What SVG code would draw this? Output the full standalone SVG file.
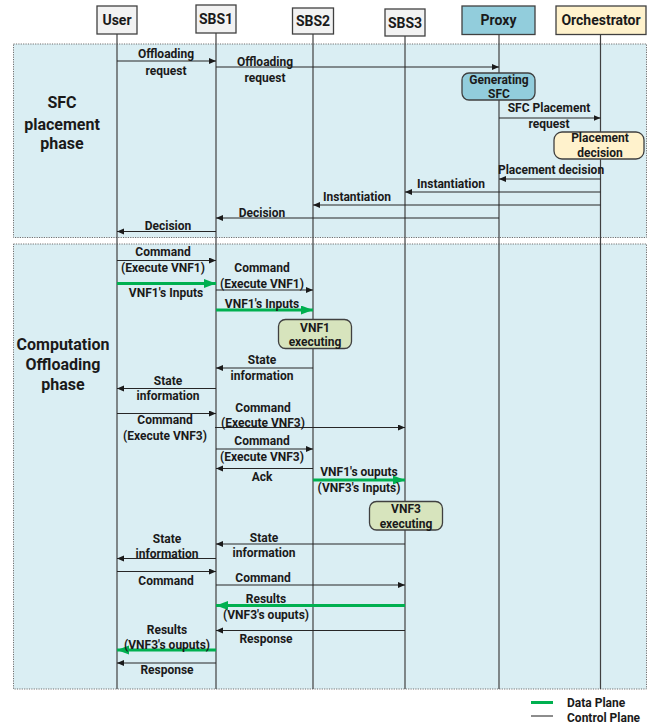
<svg xmlns="http://www.w3.org/2000/svg" width="655" height="724" viewBox="0 0 655 724">
<defs>
<style>
text{font-family:Roboto,"Liberation Sans",sans-serif;font-weight:bold;fill:#1a1a1a;text-anchor:middle;dominant-baseline:central}
.lbl{font-size:12px}
.hdr{font-size:14px}
.ttl{font-size:16px}
.sec{fill:#DAEEF3;stroke:#6f6f6f;stroke-width:1;stroke-dasharray:1.2 1.2}
.life{stroke:#404040;stroke-width:1.2}
.hbox{fill:#F2F2F2;stroke:#404040;stroke-width:1.3}
.ctl{stroke:#262626;stroke-width:1;fill:none;marker-end:url(#ah)}
.dat{stroke:#00B050;stroke-width:3;fill:none;marker-end:url(#gh)}
.act{stroke:#404040;stroke-width:1.3}
</style>
<marker id="ah" markerUnits="userSpaceOnUse" markerWidth="8" markerHeight="7" refX="7" refY="3" orient="auto"><path d="M0,0 L7,3 L0,6 z" fill="#1a1a1a"/></marker>
<marker id="gh" markerUnits="userSpaceOnUse" markerWidth="13" markerHeight="10" refX="12" refY="4.5" orient="auto"><path d="M0,0 L12,4.5 L0,9 z" fill="#00B050"/></marker>
</defs>
<rect x="0" y="0" width="655" height="724" fill="#ffffff"/>
<g id="phase1">
<rect class="sec" x="13.5" y="44" width="633" height="193.5"/>
<text class="ttl" x="62" y="102">SFC</text>
<text class="ttl" x="62" y="124">placement</text>
<text class="ttl" x="62" y="143">phase</text>
</g>
<g id="phase2">
<rect class="sec" x="13.5" y="244" width="633" height="445"/>
<text class="ttl" x="63" y="344">Computation</text>
<text class="ttl" x="63" y="364">Offloading</text>
<text class="ttl" x="63" y="384">phase</text>
</g>
<g id="lifelines">
<line class="life" x1="117" y1="34" x2="117" y2="689"/>
<line class="life" x1="216" y1="33" x2="216" y2="689"/>
<line class="life" x1="313" y1="34" x2="313" y2="689"/>
<line class="life" x1="405" y1="36" x2="405" y2="689"/>
<line class="life" x1="499" y1="34" x2="499" y2="689"/>
<line class="life" x1="600.5" y1="34" x2="600.5" y2="689"/>
</g>
<g id="user"><rect class="hbox" x="97" y="6" width="40" height="28"/><text class="hdr" x="117" y="20">User</text></g>
<g id="sbs1"><rect class="hbox" x="196" y="5" width="40" height="28"/><text class="hdr" x="216" y="19">SBS1</text></g>
<g id="sbs2"><rect class="hbox" x="292.5" y="8" width="41" height="26"/><text class="hdr" x="313" y="21">SBS2</text></g>
<g id="sbs3"><rect class="hbox" x="385" y="9" width="40" height="27"/><text class="hdr" x="405" y="23">SBS3</text></g>
<g id="proxy"><rect x="462" y="6" width="73" height="28.5" fill="#92CDDC" stroke="#404040" stroke-width="1.3"/><text class="hdr" x="498.5" y="20">Proxy</text></g>
<g id="orchestrator"><rect x="556" y="6" width="90" height="28.5" fill="#FFF2CC" stroke="#404040" stroke-width="1.3"/><text class="hdr" x="601" y="20">Orchestrator</text></g>
<g id="generating-sfc"><rect class="act" x="462" y="73" width="73" height="27" rx="7" fill="#92CDDC"/><text class="lbl" x="499" y="79.5">Generating</text><text class="lbl" x="499" y="94">SFC</text></g>
<g id="placement-decision"><rect class="act" x="554" y="132" width="90" height="27" rx="8" fill="#FFF2CC"/><text class="lbl" x="600" y="137.5">Placement</text><text class="lbl" x="600" y="153">decision</text></g>
<g id="vnf1-executing"><rect class="act" x="278.5" y="319.5" width="73" height="29" rx="7" fill="#D7E4BD"/><text class="lbl" x="315" y="327.5">VNF1</text><text class="lbl" x="315" y="341.5">executing</text></g>
<g id="vnf3-executing"><rect class="act" x="369.5" y="501.5" width="73" height="28.5" rx="7" fill="#D7E4BD"/><text class="lbl" x="406" y="509">VNF3</text><text class="lbl" x="406" y="523.5">executing</text></g>
<g id="connectors">
<line class="ctl" x1="117" y1="61" x2="216" y2="61"/>
<text class="lbl" x="166" y="54">Offloading</text><text class="lbl" x="166" y="70.5">request</text>
<line class="ctl" x1="216" y1="67" x2="499" y2="67"/>
<text class="lbl" x="265" y="62">Offloading</text><text class="lbl" x="265" y="77.5">request</text>
<line class="ctl" x1="499" y1="118" x2="600.5" y2="118"/>
<text class="lbl" x="549" y="107.5">SFC Placement</text><text class="lbl" x="549" y="123.5">request</text>
<line class="ctl" x1="600.5" y1="179" x2="499" y2="179"/>
<text class="lbl" x="551" y="170">Placement decision</text>
<line class="ctl" x1="600.5" y1="192" x2="405" y2="192"/>
<text class="lbl" x="451" y="184">Instantiation</text>
<line class="ctl" x1="600.5" y1="205" x2="313" y2="205"/>
<text class="lbl" x="357" y="196.5">Instantiation</text>
<line class="ctl" x1="499" y1="218" x2="216" y2="218"/>
<text class="lbl" x="262" y="213">Decision</text>
<line class="ctl" x1="216" y1="231.5" x2="117" y2="231.5"/>
<text class="lbl" x="168" y="226">Decision</text>

<line class="ctl" x1="117" y1="260.5" x2="216" y2="260.5"/>
<text class="lbl" x="163" y="251.5">Command</text><text class="lbl" x="163" y="267.5">(Execute VNF1)</text>
<line class="dat" x1="117" y1="283.5" x2="216" y2="283.5"/>
<text class="lbl" x="166" y="292.5">VNF1's Inputs</text>
<line class="ctl" x1="216" y1="290" x2="313" y2="290"/>
<text class="lbl" x="262" y="268">Command</text>
<text class="lbl" x="262" y="283.5">(Execute VNF1)</text>
<line class="dat" x1="216" y1="310" x2="313" y2="310"/>
<text class="lbl" x="262" y="304">VNF1's Inputs</text>
<line class="ctl" x1="313" y1="368" x2="216" y2="368"/>
<text class="lbl" x="262" y="360">State</text><text class="lbl" x="262" y="375.5">information</text>
<line class="ctl" x1="216" y1="388.5" x2="117" y2="388.5"/>
<text class="lbl" x="168" y="381">State</text><text class="lbl" x="168" y="396">information</text>
<line class="ctl" x1="117" y1="413.5" x2="216" y2="413.5"/>
<text class="lbl" x="165" y="420">Command</text><text class="lbl" x="165" y="435.5">(Execute VNF3)</text>
<line class="ctl" x1="215" y1="427.5" x2="405" y2="427.5"/>
<text class="lbl" x="263" y="407.5">Command</text><text class="lbl" x="263" y="422.5">(Execute VNF3)</text>
<line class="ctl" x1="216" y1="449" x2="313" y2="449"/>
<text class="lbl" x="262" y="441">Command</text><text class="lbl" x="262" y="457">(Execute VNF3)</text>
<line class="ctl" x1="313" y1="468.5" x2="216" y2="468.5"/>
<text class="lbl" x="262" y="477">Ack</text>
<line class="dat" x1="313" y1="480" x2="405" y2="480"/>
<text class="lbl" x="359" y="472">VNF1's ouputs</text><text class="lbl" x="359" y="488">(VNF3's Inputs)</text>
<line class="ctl" x1="405" y1="544" x2="216" y2="544"/>
<text class="lbl" x="264" y="537.5">State</text><text class="lbl" x="264" y="553">information</text>
<line class="ctl" x1="216" y1="558.5" x2="117" y2="558.5"/>
<text class="lbl" x="167" y="539">State</text><text class="lbl" x="167" y="554">information</text>
<line class="ctl" x1="117" y1="571.5" x2="216" y2="571.5"/>
<text class="lbl" x="166" y="580.5">Command</text>
<line class="ctl" x1="216" y1="585" x2="405" y2="585"/>
<text class="lbl" x="263" y="577.5">Command</text>
<line class="dat" x1="405" y1="605.5" x2="216" y2="605.5"/>
<text class="lbl" x="266" y="599">Results</text><text class="lbl" x="266" y="614.5">(VNF3's ouputs)</text>
<line class="ctl" x1="405" y1="630.5" x2="216" y2="630.5"/>
<text class="lbl" x="266" y="638.5">Response</text>
<line class="dat" x1="216" y1="650" x2="117" y2="650"/>
<text class="lbl" x="167" y="629.5">Results</text><text class="lbl" x="167" y="645">(VNF3's ouputs)</text>
<line class="ctl" x1="216" y1="663" x2="117" y2="663"/>
<text class="lbl" x="167" y="670">Response</text>
</g>
<g id="legend">
<line x1="531" y1="702.5" x2="553" y2="702.5" stroke="#00B050" stroke-width="3"/>
<line x1="531" y1="716" x2="553" y2="716" stroke="#1a1a1a" stroke-width="1"/>
<text class="lbl" x="567" y="703" style="text-anchor:start">Data Plane</text>
<text class="lbl" x="567" y="718" style="text-anchor:start">Control Plane</text>
</g>
</svg>
